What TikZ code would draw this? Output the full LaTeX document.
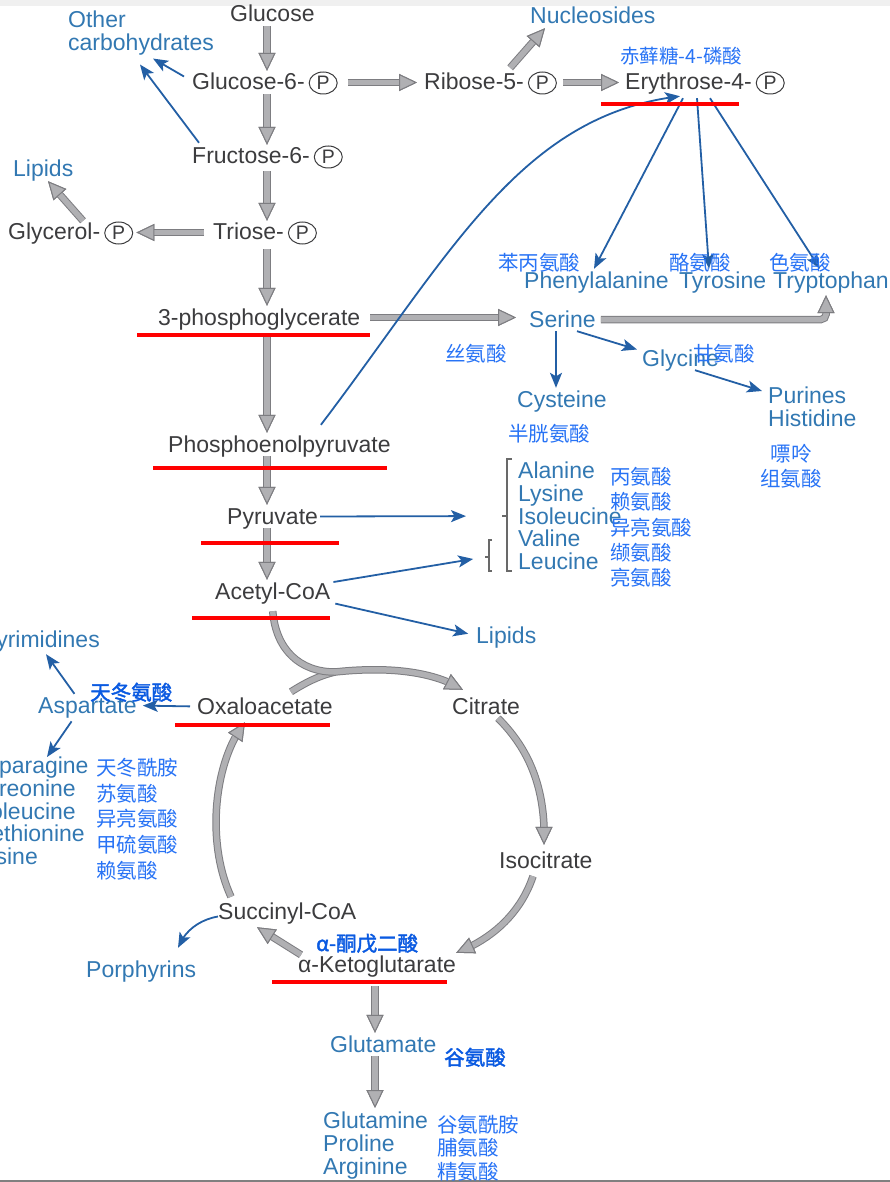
\documentclass[tikz,border=0pt]{standalone}
\usepackage{fontspec}
\setmainfont{Liberation Sans}
\newfontfamily\cjk{Noto Sans CJK SC}
\newfontfamily\cjkb[FakeBold=2]{Noto Sans CJK SC}
\usetikzlibrary{arrows.meta,bending,shapes.geometric}
\definecolor{nodegray}{RGB}{60,60,62}
\definecolor{labblue}{RGB}{50,120,178}
\definecolor{arrblue}{RGB}{35,95,165}
\definecolor{cnblue}{RGB}{40,115,245}
\definecolor{cnbold}{RGB}{10,90,225}
\definecolor{fatfill}{RGB}{176,176,179}
\definecolor{fatedge}{RGB}{125,125,129}
\definecolor{brkgray}{RGB}{105,105,105}
\definecolor{topgray}{RGB}{240,240,240}
\newcommand{\circP}{\hspace{4pt}\tikz[baseline=(cp.base)]\node[ellipse,draw=nodegray,line width=1pt,inner sep=0pt,minimum width=28pt,minimum height=22pt,text height=14pt,text depth=0pt](cp){\fontsize{19.5}{19.5}\selectfont P};}

\begin{document}
\begin{tikzpicture}[x=1pt,y=-1pt,
  blk/.style={text=nodegray,font=\fontsize{23}{23}\selectfont,inner sep=0pt,text height=19pt,text depth=4pt,anchor=base west},
  blu/.style={blk,text=labblue},
  blugrp/.style={text=labblue,font=\fontsize{23}{22.7}\selectfont,inner sep=0pt,align=left,anchor=north west},
  cn/.style={text=cnblue,font=\cjk\fontsize{20.5}{25.3}\selectfont,inner sep=0pt,anchor=base west},
  cnb/.style={cn,text=cnbold,font=\cjkb\fontsize{20.5}{25.3}\selectfont},
  cngrp/.style={cn,align=left,anchor=north west},
  grayarr/.style={draw=fatfill,line width=5.5pt,
    -{Triangle[length=18pt,width=17pt,line width=1pt,fill=fatfill,color=fatedge]},
    preaction={draw=fatedge,line width=7.5pt}},
  bluearr/.style={draw=arrblue,line width=1.8pt,-{Stealth[length=15pt,width=12pt,inset=3.5pt]}},
  redline/.style={draw=red,line width=4.5pt},
  brk/.style={draw=brkgray,line width=1.2pt}]
\useasboundingbox (0,0) rectangle (890,1182);
\fill[topgray] (0,0) rectangle (890,6);
\draw[line width=1.5pt,draw=gray] (0,1181) -- (890,1181);

% pathway
\node[blk] (glc) at (230,22) {Glucose};
\node[blk] (g6p) at (192,90) {Glucose-6-\circP};
\node[blk] (rib) at (424,90) {Ribose-5-\circP};
\node[blk] (ery) at (625,90) {Erythrose-4-\circP};
\node[blk] (f6p) at (192,164) {Fructose-6-\circP};
\node[blk] (tri) at (213,240) {Triose-\circP};
\node[blk] (glp) at (8,240) {Glycerol-\circP};
\node[blk] (pg) at (158,325) {3-phosphoglycerate};
\node[blk] (pep) at (168,452) {Phosphoenolpyruvate};
\node[blk] (pyr) at (227,524) {Pyruvate};
\node[blk] (acoa) at (215,599) {Acetyl-CoA};
\node[blk] (oaa) at (197,714) {Oxaloacetate};
\node[blk] (cit) at (452,714) {Citrate};
\node[blk] (icit) at (499,868) {Isocitrate};
\node[blk] (scoa) at (218,919) {Succinyl-CoA};
\node[blk] (akg) at (298,972) {α-Ketoglutarate};

% products
\node[blugrp] (carb) at (68,11) {Other\\carbohydrates};
\node[blu] (lipA) at (13,177) {Lipids};
\node[blu] (nuc) at (530,24) {Nucleosides};
\node[blu] (phe) at (524,288) {Phenylalanine};
\node[blu] (tyr) at (679,288) {Tyrosine};
\node[blu] (trp) at (773,288) {Tryptophan};
\node[blu] (ser) at (529,327) {Serine};
\node[blu] (glyn) at (642,366) {Glycine};
\node[blu] (cys) at (517,407) {Cysteine};
\node[blugrp] (pur) at (768,387) {Purines\\Histidine};
\node[blugrp] (aa) at (518,462) {Alanine\\Lysine\\Isoleucine\\Valine\\Leucine};
\node[blu] (lipB) at (476,643) {Lipids};
\node[blu,anchor=base east] (pyrim) at (100,647) {Pyrimidines};
\node[blu] (asp) at (38,713) {Aspartate};
\node[blugrp] (asgrp) at (-28,757) {Asparagine\\Threonine\\Isoleucine\\Methionine\\Lysine};
\node[blu] (porph) at (86,977) {Porphyrins};
\node[blu] (glu) at (330,1052) {Glutamate};
\node[blugrp] (gln) at (323,1112) {Glutamine\\Proline\\Arginine};

% brackets
\coordinate (brA) at (502,516);
\coordinate (brB) at (485,557);
\draw[brk] (512,459) -- (507,459) -- (507,571) -- (512,571);
\draw[brk] (507,516) -- (brA);
\draw[brk] (492,540) -- (489,540) -- (489,571) -- (492,571);
\draw[brk] (489,557) -- (brB);

% gray arrows
\coordinate (col) at (267,0);
\draw[grayarr] (col |- glc.south) -- (col |- g6p.north);
\draw[grayarr] (col |- g6p.south) -- (col |- f6p.north);
\draw[grayarr,shorten <=3pt] (col |- f6p.south) -- (col |- tri.north);
\draw[grayarr,shorten <=5pt] (col |- tri.south) -- (col |- pg.north);
\draw[grayarr,shorten <=8pt] (col |- pg.south) -- (col |- pep.north);
\draw[grayarr] (col |- pep.south) -- (col |- pyr.north);
\draw[grayarr] (col |- pyr.south) -- (col |- acoa.north);
\draw[grayarr,shorten <=10pt,shorten >=7pt] (g6p.east) -- (rib.west);
\draw[grayarr,shorten <=6pt,shorten >=6pt] (rib.east) -- (ery.west);
\draw[grayarr,shorten <=4pt] ([xshift=17pt]rib.north) -- ([xshift=15pt]nuc.south west);
\draw[grayarr,shorten <=9pt,shorten >=3pt] (tri.west) -- (glp.east);
\draw[grayarr] ([xshift=75pt]glp.north west) -- ([xshift=35pt]lipA.south west);
\draw[grayarr,shorten <=10pt,shorten >=13pt] (pg.east) -- (pg.east -| ser.west);
\draw[grayarr,rounded corners=5pt,shorten <=5pt] (ser.east) -| ([xshift=53pt,yshift=-3pt]trp.south west);

% citric acid cycle
\coordinate (mrg) at (335,672);
\draw[grayarr,-] ([xshift=-42pt,yshift=3pt]oaa.north east) .. controls (305,683) and (318,676) .. (mrg);
\draw[grayarr] ([yshift=-8pt]acoa.south) .. controls (276,650) and (300,672) .. (mrg)
  .. controls (390,666) and (435,672) .. ([xshift=11pt,yshift=5pt]cit.north west);
\draw[grayarr] ([xshift=46pt]cit.south west) .. controls (530,750) and (546,790) .. ([xshift=45pt,yshift=4pt]icit.north west);
\draw[grayarr] ([xshift=34pt,yshift=-4pt]icit.south west) .. controls (520,915) and (490,940) .. (akg.north east);
\draw[grayarr] ([xshift=3pt,yshift=-2pt]akg.north west) -- ([xshift=39pt,yshift=-4pt]scoa.south west);
\draw[grayarr] ([xshift=13pt,yshift=3pt]scoa.north west) .. controls (205,840) and (215,760) .. ([xshift=48pt,yshift=-4pt]oaa.south west);
\draw[grayarr] ([xshift=77pt,yshift=-10pt]akg.south west) -- ([xshift=45pt]glu.north west);
\draw[grayarr] ([xshift=45pt]glu.south west) -- ([xshift=52pt,yshift=4pt]gln.north west);

% blue arrows
\draw[bluearr] ([xshift=-8pt,yshift=6pt]g6p.west) -- ([xshift=85pt,yshift=-3pt]carb.south west);
\draw[bluearr] ([xshift=7pt,yshift=2pt]f6p.north west) -- ([xshift=72pt,yshift=-9pt]carb.south west);
\draw[bluearr] ([xshift=58pt,yshift=-4pt]ery.south west) -- ([xshift=70pt]phe.north west);
\draw[bluearr] ([xshift=72pt,yshift=-4pt]ery.south west) -- ([xshift=30pt]tyr.north west);
\draw[bluearr] ([xshift=85pt,yshift=-4pt]ery.south west) -- ([xshift=47pt]trp.north west);
\draw[bluearr] ([xshift=-70pt,yshift=8pt]pep.north east) .. controls (450,255) and (520,115) .. ([xshift=55pt,yshift=-2pt]ery.south west);
\draw[bluearr] ([xshift=27pt]ser.south west) -- ([xshift=39pt]cys.north west);
\draw[bluearr] ([xshift=48pt]ser.south west) -- ([xshift=-5pt,yshift=9pt]glyn.west);
\draw[bluearr] ([xshift=53pt]glyn.south west) -- ([xshift=-6pt,yshift=-4pt]pur.north west);
\draw[bluearr,shorten <=2pt,shorten >=36pt] (pyr.east) -- (brA);
\draw[bluearr,shorten <=3pt,shorten >=12pt] ([yshift=9pt]acoa.east) -- (brB);
\draw[bluearr,shorten <=5pt,shorten >=8pt] ([yshift=-11pt]acoa.east) -- (lipB.west);
\draw[bluearr,shorten <=7pt,shorten >=6pt] (oaa.west) -- (asp.east);
\draw[bluearr] ([xshift=-13pt]asp.north) -- ([xshift=-54pt,yshift=-3pt]pyrim.south east);
\draw[bluearr,shorten <=5pt] ([xshift=-13pt]asp.south) -- ([xshift=75pt]asgrp.north west);
\draw[bluearr] ([yshift=-5pt]scoa.west) .. controls (198,920) and (184,932) .. ([xshift=92pt,yshift=10pt]porph.north west);

% chinese names
\node[cn,font=\cjk\fontsize{19.5}{20}\selectfont] (eryc) at (620,64) {赤藓糖-4-磷酸};
\node[cn] (phec) at (498,270) {苯丙氨酸};
\node[cn] (tyrc) at (669,270) {酪氨酸};
\node[cn] (trpc) at (769,270) {色氨酸};
\node[cn] (serc) at (445,361) {丝氨酸};
\node[cn] (glync) at (693,361) {甘氨酸};
\node[cn] (cysc) at (508,441) {半胱氨酸};
\node[cngrp,align=center,anchor=north] (purc) at (791,444) {嘌呤\\组氨酸};
\node[cngrp] (aac) at (610,467) {丙氨酸\\赖氨酸\\异亮氨酸\\缬氨酸\\亮氨酸};
\node[cnb] (aspc) at (90,700) {天冬氨酸};
\node[cngrp,font=\cjk\fontsize{20.5}{25.75}\selectfont] (asgrpc) at (96,758) {天冬酰胺\\苏氨酸\\异亮氨酸\\甲硫氨酸\\赖氨酸};
\node[cnb] (akgc) at (316,951) {α-酮戊二酸};
\node[cnb] (gluc) at (444,1065) {谷氨酸};
\node[cngrp,font=\cjk\fontsize{20.5}{23.5}\selectfont] (glnc) at (437,1115) {谷氨酰胺\\脯氨酸\\精氨酸};

% marks
\draw[redline] (601,104) -- (739,104) (137,335) -- (370,335) (153,468) -- (387,468)
  (201,543) -- (339,543) (192,618) -- (330,618) (175,725) -- (330,725) (272,982) -- (447,982);
\end{tikzpicture}
\end{document}
